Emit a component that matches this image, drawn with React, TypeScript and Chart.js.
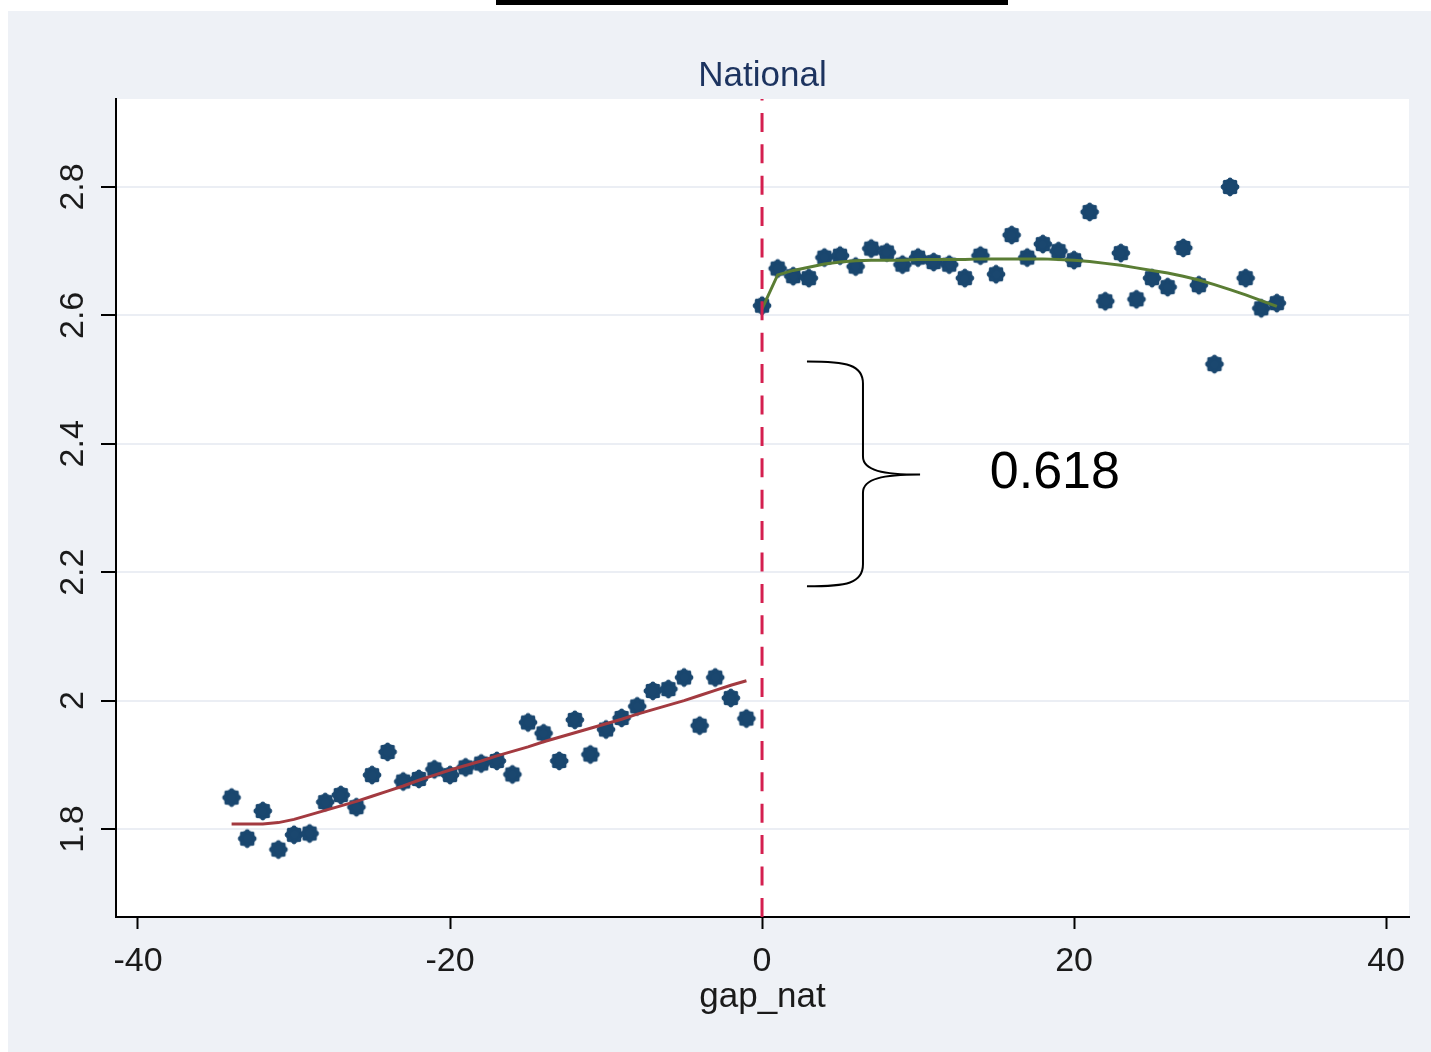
import React, { useEffect, useRef } from "react";
import { Chart, registerables } from "chart.js";

Chart.register(...registerables);

// ---------- data ----------
const leftX = [-34, -33, -32, -31, -30, -29, -28, -27, -26, -25, -24, -23, -22, -21, -20, -19, -18, -17, -16, -15, -14, -13, -12, -11, -10, -9, -8, -7, -6, -5, -4, -3, -2, -1];
const leftY = [1.849, 1.785, 1.828, 1.768, 1.791, 1.793, 1.842, 1.853, 1.834, 1.884, 1.920, 1.874, 1.878, 1.893, 1.884, 1.896, 1.902, 1.906, 1.885, 1.966, 1.949, 1.906, 1.970, 1.916, 1.955, 1.973, 1.991, 2.015, 2.018, 2.036, 1.961, 2.036, 2.004, 1.972];
const leftFit = [1.808, 1.808, 1.808, 1.810, 1.815, 1.822, 1.829, 1.836, 1.843, 1.851, 1.859, 1.867, 1.876, 1.884, 1.892, 1.899, 1.906, 1.914, 1.921, 1.928, 1.936, 1.943, 1.950, 1.957, 1.964, 1.971, 1.979, 1.986, 1.993, 2.000, 2.008, 2.016, 2.024, 2.031];

const rightX = [0, 1, 2, 3, 4, 5, 6, 7, 8, 9, 10, 11, 12, 13, 14, 15, 16, 17, 18, 19, 20, 21, 22, 23, 24, 25, 26, 27, 28, 29, 30, 31, 32, 33];
const rightY = [2.615, 2.673, 2.661, 2.658, 2.690, 2.693, 2.676, 2.704, 2.698, 2.679, 2.690, 2.683, 2.679, 2.658, 2.693, 2.664, 2.725, 2.690, 2.711, 2.700, 2.686, 2.761, 2.622, 2.697, 2.625, 2.658, 2.644, 2.705, 2.647, 2.524, 2.800, 2.658, 2.611, 2.619];
const rightFit = [2.610, 2.663, 2.670, 2.675, 2.680, 2.683, 2.685, 2.686, 2.686, 2.686, 2.687, 2.687, 2.687, 2.687, 2.688, 2.688, 2.688, 2.688, 2.688, 2.687, 2.686, 2.684, 2.681, 2.678, 2.674, 2.670, 2.666, 2.661, 2.655, 2.648, 2.640, 2.632, 2.623, 2.614];

const xTickValues = [-40, -20, 0, 20, 40];
const xTickLabels = ["-40", "-20", "0", "20", "40"];
const yTickValues = [1.8, 2.0, 2.2, 2.4, 2.6, 2.8];
const yTickLabels = ["1.8", "2", "2.2", "2.4", "2.6", "2.8"];

const X_MIN = -41.41;
const X_MAX = 41.47;
const Y_MIN = 1.663;
const Y_MAX = 2.937;
const CUTOFF = 0;

const TITLE = "National";
const X_TITLE = "gap_nat";
const GAP_LABEL = "0.618";
// brace annotation anchors (data units)
const braceXStart = 2.88;
const braceXSpine = 6.47;
const braceXTip = 10.13;
const braceYTop = 2.528;
const braceYBottom = 2.178;
const braceYTip = 2.352;
const gapLabelX = 14.6;
const gapLabelY = 2.3318;

// ---------- styles ----------
const FONT = '"Liberation Sans", Arial, sans-serif';
const PANEL_BG = "#eef1f6";
const NAVY = "#1a476f";
const MAROON = "#a33a40";
const GREEN = "#5a7d34";
const CRIMSON = "#d41f4f";

function makeMarker(): HTMLCanvasElement {
  const c = document.createElement("canvas");
  c.width = 22;
  c.height = 22;
  const g = c.getContext("2d")!;
  g.fillStyle = NAVY;
  g.beginPath();
  g.arc(11, 11, 8.2, 0, Math.PI * 2);
  g.fill();
  for (let k = 0; k < 8; k++) {
    const a = (k * Math.PI) / 4;
    g.beginPath();
    g.arc(11 + 7.0 * Math.cos(a), 11 + 7.0 * Math.sin(a), 2.4, 0, Math.PI * 2);
    g.fill();
  }
  return c;
}

const decorPlugin = {
  id: "decor",
  beforeDraw(chart: any) {
    const { ctx, chartArea: a, width, height } = chart;
    ctx.save();
    ctx.fillStyle = "#ffffff";
    ctx.fillRect(0, 0, width, height);
    ctx.fillStyle = PANEL_BG;
    ctx.fillRect(8, 11, width - 8, height - 11);
    ctx.fillStyle = "#000000";
    ctx.fillRect(496, 0, 512, 5);
    ctx.fillStyle = "#ffffff";
    ctx.fillRect(a.left, a.top, a.right - a.left, a.bottom - a.top);
    ctx.restore();
  },
  afterDraw(chart: any) {
    const { ctx, chartArea: a, scales } = chart;
    const xs = scales.x;
    const ys = scales.y;
    ctx.save();
    // title
    ctx.fillStyle = "#1c335f";
    ctx.font = `35px ${FONT}`;
    ctx.textAlign = "center";
    ctx.textBaseline = "alphabetic";
    ctx.fillText(TITLE, (a.left + a.right) / 2, a.top - 13);

    // x tick labels
    ctx.fillStyle = "#1a1a1a";
    ctx.font = `34px ${FONT}`;
    xTickValues.forEach((v, i) => {
      ctx.fillText(xTickLabels[i], xs.getPixelForValue(v), a.bottom + 54);
    });
    // x title
    ctx.font = `35px ${FONT}`;
    ctx.fillText(X_TITLE, (a.left + a.right) / 2, a.bottom + 90);

    // y tick labels (rotated)
    ctx.font = `34px ${FONT}`;
    yTickValues.forEach((v, i) => {
      ctx.save();
      ctx.translate(a.left - 33, ys.getPixelForValue(v));
      ctx.rotate(-Math.PI / 2);
      ctx.textAlign = "center";
      ctx.textBaseline = "alphabetic";
      ctx.fillText(yTickLabels[i], 0, 0);
      ctx.restore();
    });

    // brace
    const x0 = xs.getPixelForValue(braceXStart);
    const xm = xs.getPixelForValue(braceXSpine);
    const xt = xs.getPixelForValue(braceXTip);
    const yt = ys.getPixelForValue(braceYTop);
    const yb = ys.getPixelForValue(braceYBottom);
    const ym = ys.getPixelForValue(braceYTip);
    ctx.strokeStyle = "#000000";
    ctx.lineWidth = 2;
    ctx.beginPath();
    ctx.moveTo(x0, yt);
    ctx.bezierCurveTo(x0 + 40, yt, xm, yt + 3, xm, yt + 22);
    ctx.lineTo(xm, ym - 18);
    ctx.bezierCurveTo(xm, ym - 4, xm + 20, ym, xt, ym);
    ctx.moveTo(xt, ym);
    ctx.bezierCurveTo(xm + 20, ym, xm, ym + 4, xm, ym + 18);
    ctx.lineTo(xm, yb - 22);
    ctx.bezierCurveTo(xm, yb - 3, x0 + 40, yb, x0, yb);
    ctx.stroke();

    // gap label
    ctx.fillStyle = "#000000";
    ctx.font = `52px ${FONT}`;
    ctx.textAlign = "left";
    ctx.fillText(GAP_LABEL, xs.getPixelForValue(gapLabelX), ys.getPixelForValue(gapLabelY));
    ctx.restore();
  },
};

export default function App() {
  const ref = useRef<HTMLCanvasElement>(null);
  useEffect(() => {
    const canvas = ref.current;
    if (!canvas) return;
    const marker = makeMarker();
    const chart = new Chart(canvas, {
      type: "scatter",
      data: {
        datasets: [
          {
            label: "cutoff",
            data: [
              { x: CUTOFF, y: Y_MAX },
              { x: CUTOFF, y: Y_MIN },
            ],
            showLine: true,
            borderColor: CRIMSON,
            borderWidth: 3,
            borderDash: [19, 12.4],
            borderDashOffset: 17.5,
            pointRadius: 0,
            order: 0,
          },
          {
            label: "fit left",
            data: leftX.map((x, i) => ({ x, y: leftFit[i] })),
            showLine: true,
            borderColor: MAROON,
            borderWidth: 3,
            pointRadius: 0,
            tension: 0,
            order: 0,
          },
          {
            label: "fit right",
            data: rightX.map((x, i) => ({ x, y: rightFit[i] })),
            showLine: true,
            borderColor: GREEN,
            borderWidth: 3,
            pointRadius: 0,
            tension: 0,
            order: 0,
          },
          {
            label: "left",
            data: leftX.map((x, i) => ({ x, y: leftY[i] })),
            pointStyle: marker as any,
            pointRadius: 10,
            backgroundColor: NAVY,
            borderColor: NAVY,
            order: 1,
          },
          {
            label: "right",
            data: rightX.map((x, i) => ({ x, y: rightY[i] })),
            pointStyle: marker as any,
            pointRadius: 10,
            backgroundColor: NAVY,
            borderColor: NAVY,
            order: 1,
          },
        ],
      },
      options: {
        responsive: false,
        animation: false,
        events: [],
        layout: { padding: { left: 0, top: 99, right: 22, bottom: 0 } },
        plugins: {
          legend: { display: false },
          tooltip: { enabled: false },
          title: { display: false },
        },
        scales: {
          x: {
            type: "linear",
            min: X_MIN,
            max: X_MAX,
            afterBuildTicks: (s: any) => {
              s.ticks = xTickValues.map((v) => ({ value: v }));
            },
            afterFit: (s: any) => {
              s.height = 135;
            },
            ticks: { display: false },
            grid: {
              drawOnChartArea: false,
              drawTicks: true,
              tickLength: 12,
              tickColor: "#000000",
              tickWidth: 2,
            },
            border: { display: true, color: "#000000", width: 2 },
          },
          y: {
            type: "linear",
            min: Y_MIN,
            max: Y_MAX,
            afterBuildTicks: (s: any) => {
              s.ticks = yTickValues.map((v) => ({ value: v }));
            },
            afterFit: (s: any) => {
              s.width = 116;
            },
            ticks: { display: false },
            grid: {
              color: "#ebeef4",
              lineWidth: 2,
              drawTicks: true,
              tickLength: 15,
              tickColor: "#000000",
              tickWidth: 2,
            },
            border: { display: true, color: "#000000", width: 2 },
          },
        },
      },
      plugins: [decorPlugin],
    });
    return () => chart.destroy();
  }, []);
  return (
    <div style={{ position: "fixed", left: 0, top: 0, width: 1431, height: 1052 }}>
      <canvas ref={ref} width={1431} height={1052} style={{ display: "block" }} />
    </div>
  );
}
